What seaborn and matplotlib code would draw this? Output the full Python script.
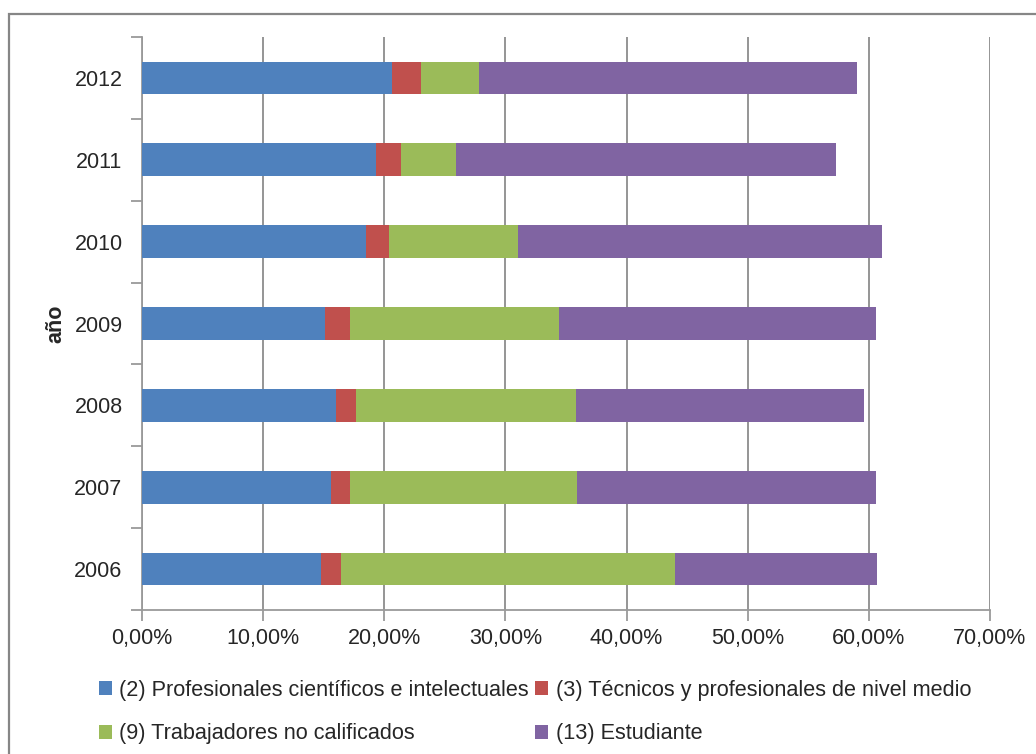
import matplotlib
matplotlib.use("Agg")
import matplotlib.pyplot as plt
import numpy as np
import pandas as pd
import seaborn as sns
from matplotlib.patches import Patch, Rectangle
from matplotlib.ticker import FuncFormatter, FixedLocator

# years, top to bottom as shown
years = ["2012", "2011", "2010", "2009", "2008", "2007", "2006"]

# shares (%) for each occupation group
profesionales = [20.6, 19.3, 18.5, 15.1, 16.0, 15.6, 14.8]
tecnicos = [2.4, 2.1, 1.9, 2.1, 1.7, 1.6, 1.6]
trabajadores = [4.8, 4.5, 10.6, 17.2, 18.1, 18.7, 27.6]
estudiante = [31.2, 31.4, 30.1, 26.2, 23.8, 24.7, 16.7]

series_names = [
    "(2) Profesionales científicos e intelectuales",
    "(3) Técnicos y profesionales de nivel medio",
    "(9) Trabajadores no calificados",
    "(13) Estudiante",
]
series_colors = ["#4f81bd", "#c0504d", "#9bbb59", "#8064a2"]

df = pd.DataFrame(
    {
        "year": years,
        series_names[0]: profesionales,
        series_names[1]: tecnicos,
        series_names[2]: trabajadores,
        series_names[3]: estudiante,
    }
)
cum = df[series_names].cumsum(axis=1)
cum["year"] = df["year"]

sns.set_style("white")
plt.rcParams["font.family"] = ["Liberation Sans", "DejaVu Sans"]

fig = plt.figure(figsize=(10.36, 7.54), dpi=100)
ax = fig.add_axes([142 / 1036, 1 - 610 / 754, (990 - 142) / 1036, (610 - 37) / 754])

# outer chart frame
fig.patches.append(
    Rectangle((9 / 1036, -0.05), 1.2, 1 - 14 / 754 + 0.05, transform=fig.transFigure,
              fill=False, edgecolor="#868686", linewidth=1.6, zorder=0)
)

# stacked bars: draw cumulative totals, longest first
for name, color in reversed(list(zip(series_names, series_colors))):
    sns.barplot(data=cum, x=name, y="year", order=years, color=color,
                orient="h", width=0.4, saturation=1, edgecolor="none", ax=ax, zorder=3)

ax.set_xlim(0, 70)
ax.set_ylim(6.5, -0.5)
ax.set_xticks(np.arange(0, 71, 10))
ax.xaxis.set_major_formatter(FuncFormatter(lambda v, p: f"{v:.2f}%".replace(".", ",")))
ax.grid(axis="x", color="#8c8c8c", linewidth=1.3, zorder=0)
ax.set_axisbelow(True)

for s in ["top", "right"]:
    ax.spines[s].set_visible(False)
for s in ["left", "bottom"]:
    ax.spines[s].set_color("#9a9a9a")
    ax.spines[s].set_linewidth(1.3)

ax.tick_params(axis="x", bottom=True, length=8, width=1.3, color="#9a9a9a",
               labelsize=15.5, pad=5)
ax.tick_params(axis="y", which="major", left=True, length=0, labelsize=15.5, pad=14)
ax.yaxis.set_minor_locator(FixedLocator(np.arange(-0.5, 7, 1)))
ax.tick_params(axis="y", which="minor", left=True, length=8, width=1.3, color="#9a9a9a")

ax.set_xlabel("")
ax.set_ylabel("año", fontsize=15.5, fontweight="bold", labelpad=6)

# legend: row 1 -> (2), (3); row 2 -> (9), (13)
handles = [Patch(facecolor=c, edgecolor="none") for c in series_colors]
order = [0, 2, 1, 3]
fig.legend([handles[i] for i in order], [series_names[i] for i in order],
           loc="center", bbox_to_anchor=(535 / 1036, 1 - 712 / 754), ncol=2,
           frameon=False, fontsize=15.6, handlelength=0.6, handleheight=0.6,
           handletextpad=0.35, columnspacing=0.3, labelspacing=1.05)

fig.savefig("out.png", dpi=100)
